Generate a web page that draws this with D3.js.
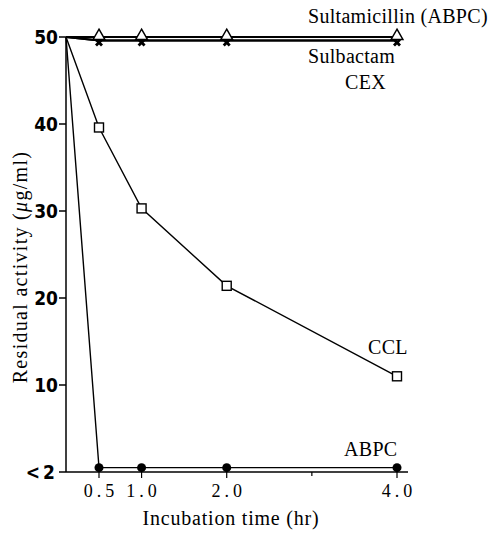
<!DOCTYPE html>
<html>
<head>
<meta charset="utf-8">
<script src="https://cdn.jsdelivr.net/npm/d3@7"></script>
<style>
  body { margin: 0; background: #fff; }
  svg { display: block; }
  .serif { font-family: "Liberation Serif", "DejaVu Serif", serif; }
  .ytick text { font-family: "Liberation Sans Narrow", "DejaVu Sans Condensed", sans-serif; font-size: 19px; font-weight: bold; }
</style>
</head>
<body>
<div id="chart"></div>
<script>
const times = [0, 0.5, 1.0, 2.0, 4.0];
const sultamicillin = [50, 50, 50, 50, 50];
const sulbactam = [50, 49.6, 49.6, 49.6, 49.6];
const cex = [50, 49.6, 49.6, 49.6, 49.6];
const ccl = [50, 39.6, 30.3, 21.4, 11.0];
const abpc = [50, 0.5, 0.5, 0.5, 0.5];

const yTicks = [0, 10, 20, 30, 40, 50];
const yTickLabels = ["<2", "10", "20", "30", "40", "50"];
const xTicks = [0.5, 1.0, 2.0, 3.0, 4.0];
const xTickLabels = { 0.5: "0.5", 1: "1.0", 2: "2.0", 4: "4.0" };

const width = 501, height = 535;

const svg = d3.select("#chart").append("svg")
  .attr("width", width).attr("height", height);

// the axis origin sits a little left of a strictly linear t=0
const x = d3.scaleLinear().domain([0, 0.5, 4]).range([66, 99, 397]);
const y = d3.scaleLinear().domain([0, 50]).range([472, 37]);

// y axis
svg.append("line")
  .attr("x1", x(0)).attr("x2", x(0))
  .attr("y1", y(50)).attr("y2", y(0))
  .attr("stroke", "#000").attr("stroke-width", 1.5);

const yt = svg.append("g").attr("class", "ytick")
  .selectAll("g").data(yTicks).enter().append("g");
yt.append("line")
  .attr("x1", x(0) - 7).attr("x2", x(0))
  .attr("y1", d => y(d)).attr("y2", d => y(d))
  .attr("stroke", "#000").attr("stroke-width", 1.5);
yt.append("text")
  .attr("x", x(0) - 8).attr("y", d => y(d) + 7)
  .attr("text-anchor", "end")
  .attr("letter-spacing", d => d === 0 ? 3 : 0)
  .text((d, i) => yTickLabels[i]);

// x axis
svg.append("line")
  .attr("x1", x(0)).attr("x2", 408)
  .attr("y1", y(0)).attr("y2", y(0))
  .attr("stroke", "#000").attr("stroke-width", 1.5);

const xt = svg.append("g").selectAll("g").data(xTicks).enter().append("g");
xt.append("line")
  .attr("x1", d => x(d)).attr("x2", d => x(d))
  .attr("y1", y(0)).attr("y2", d => y(0) + (d === 3 ? 4 : 6))
  .attr("stroke", "#000").attr("stroke-width", 1.2);
xt.append("text")
  .attr("class", "serif")
  .attr("x", d => x(d) + 2).attr("y", 497)
  .attr("text-anchor", "middle")
  .attr("font-size", 18)
  .attr("letter-spacing", 4)
  .text(d => xTickLabels[d] || "");

// axis titles
svg.append("text")
  .attr("class", "serif")
  .attr("x", 231).attr("y", 525)
  .attr("text-anchor", "middle")
  .attr("font-size", 20)
  .attr("letter-spacing", 0.8)
  .text("Incubation time (hr)");

svg.append("text")
  .attr("class", "serif")
  .attr("transform", "translate(27,267) rotate(-90)")
  .attr("text-anchor", "middle")
  .attr("font-size", 20)
  .attr("letter-spacing", 1.3)
  .html("Residual activity (<tspan font-style='italic'>μ</tspan>g/ml)");

// series lines
const line = d3.line().x((d, i) => x(times[i])).y(d => y(d));
[sultamicillin, sulbactam, cex, ccl, abpc].forEach((s, k) => {
  svg.append("path")
    .attr("d", line(s))
    .attr("fill", "none")
    .attr("stroke", "#000")
    .attr("stroke-width", k < 3 ? 2 : 1.4);
});

// markers
const pts = arr => arr.map((v, i) => [times[i], v]).slice(1);

svg.append("g").selectAll("path").data(pts(sulbactam)).enter().append("path")
  .attr("d", d3.symbol().type(d3.symbolCross).size(40))
  .attr("transform", d => `translate(${x(d[0])},${y(d[1]) + 2}) rotate(45)`)
  .attr("fill", "#000");

svg.append("g").selectAll("path").data(pts(sultamicillin)).enter().append("path")
  .attr("d", d3.symbol().type(d3.symbolTriangle).size(60))
  .attr("transform", d => `translate(${x(d[0])},${y(d[1]) - 1})`)
  .attr("fill", "#fff").attr("stroke", "#000").attr("stroke-width", 1.5);

svg.append("g").selectAll("rect").data(pts(ccl)).enter().append("rect")
  .attr("x", d => x(d[0]) - 4.5).attr("y", d => y(d[1]) - 4.5)
  .attr("width", 9).attr("height", 9)
  .attr("fill", "#fff").attr("stroke", "#000").attr("stroke-width", 1.4);

svg.append("g").selectAll("circle").data(pts(abpc)).enter().append("circle")
  .attr("cx", d => x(d[0])).attr("cy", d => y(d[1]))
  .attr("r", 4.5).attr("fill", "#000");

// series labels
const labels = [
  { text: "Sultamicillin (ABPC)", x: 308, y: 23 },
  { text: "Sulbactam", x: 308, y: 63 },
  { text: "CEX", x: 345, y: 89 },
  { text: "CCL", x: 368, y: 354 },
  { text: "ABPC", x: 344, y: 456 }
];
svg.append("g").selectAll("text").data(labels).enter().append("text")
  .attr("class", "serif")
  .attr("x", d => d.x).attr("y", d => d.y)
  .attr("font-size", 20)
  .attr("letter-spacing", 0.3)
  .text(d => d.text);
</script>
</body>
</html>
